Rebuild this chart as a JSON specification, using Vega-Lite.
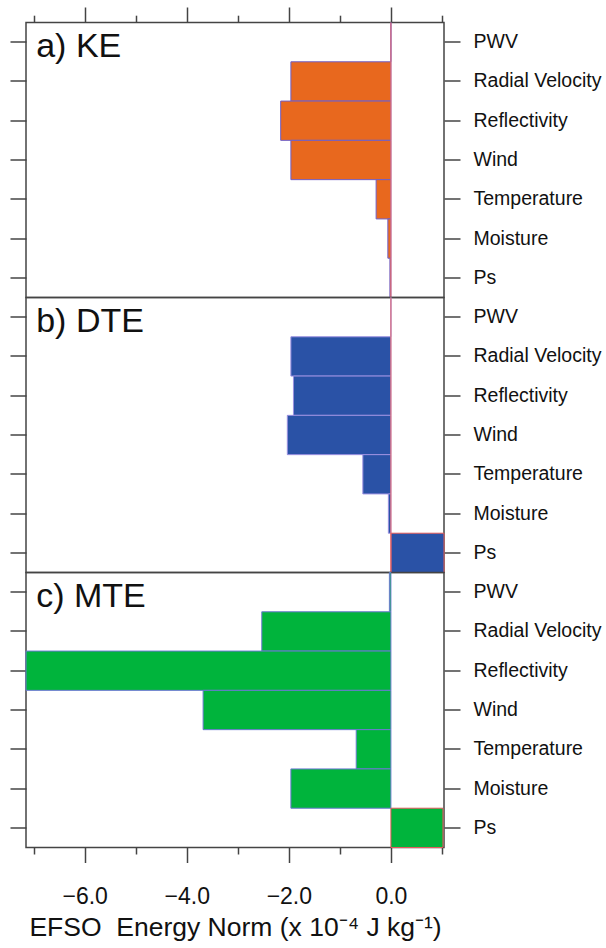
{
  "$schema": "https://vega.github.io/schema/vega-lite/v6.json",
  "background": "white",
  "padding": {"left": 8, "top": 5.5, "right": 0, "bottom": 0},
  "spacing": 0,
  "bounds": "flush",
  "config": {
    "font": "Liberation Sans",
    "concat": {"spacing": 0},
    "view": {"stroke": "#444", "strokeWidth": 1.5},
    "axis": {"grid": false, "domain": false, "tickColor": "#444", "tickWidth": 1.5, "labelColor": "#111", "titleColor": "#111"}
  },
  "datasets": {
    "efso": [
      {"norm": "KE", "var": "PWV", "value": 0},
      {"norm": "KE", "var": "Radial Velocity", "value": -1.96},
      {"norm": "KE", "var": "Reflectivity", "value": -2.16},
      {"norm": "KE", "var": "Wind", "value": -1.96},
      {"norm": "KE", "var": "Temperature", "value": -0.29},
      {"norm": "KE", "var": "Moisture", "value": -0.06},
      {"norm": "KE", "var": "Ps", "value": -0.02},
      {"norm": "DTE", "var": "PWV", "value": 0},
      {"norm": "DTE", "var": "Radial Velocity", "value": -1.96},
      {"norm": "DTE", "var": "Reflectivity", "value": -1.91},
      {"norm": "DTE", "var": "Wind", "value": -2.03},
      {"norm": "DTE", "var": "Temperature", "value": -0.55},
      {"norm": "DTE", "var": "Moisture", "value": -0.05},
      {"norm": "DTE", "var": "Ps", "value": 1.04},
      {"norm": "MTE", "var": "PWV", "value": -0.03},
      {"norm": "MTE", "var": "Radial Velocity", "value": -2.53},
      {"norm": "MTE", "var": "Reflectivity", "value": -7.15},
      {"norm": "MTE", "var": "Wind", "value": -3.68},
      {"norm": "MTE", "var": "Temperature", "value": -0.68},
      {"norm": "MTE", "var": "Moisture", "value": -1.96},
      {"norm": "MTE", "var": "Ps", "value": 1.02}
    ]
  },
  "vconcat": [
    {
      "width": 418, "height": 275,
      "data": {"name": "efso"},
      "transform": [{"filter": "datum.norm === 'KE'"}],
      "layer": [
        {
          "mark": {"type": "bar", "fill": "#e8681e", "strokeWidth": 1},
          "encoding": {
            "x": {"field": "value", "type": "quantitative",
              "scale": {"domain": [-7.15, 1.04], "nice": false, "zero": false},
              "axis": {"orient": "top", "title": null, "labels": false,
                "values": [-7, -6.5, -6, -5.5, -5, -4.5, -4, -3.5, -3, -2.5, -2, -1.5, -1, -0.5, 0, 0.5, 1],
                "tickSize": {"condition": {"test": "datum.value % 2 === 0", "value": 15.5}, "value": 7.3}}},
            "x2": {"datum": 0},
            "y": {"field": "var", "type": "nominal",
              "sort": ["PWV", "Radial Velocity", "Reflectivity", "Wind", "Temperature", "Moisture", "Ps"],
              "scale": {"paddingInner": 0, "paddingOuter": 0},
              "axis": {"orient": "left", "title": null, "labels": false, "tickSize": 16}},
            "stroke": {"condition": {"test": "datum.value > 0", "value": "#e05a5a"}, "value": "#7060c8"}
          }
        },
        {
          "mark": {"type": "bar", "opacity": 0},
          "encoding": {
            "x": {"field": "value", "type": "quantitative"},
            "x2": {"datum": 0},
            "y": {"field": "var", "type": "nominal",
              "sort": ["PWV", "Radial Velocity", "Reflectivity", "Wind", "Temperature", "Moisture", "Ps"],
              "axis": {"orient": "right", "title": null, "tickSize": 16, "labelPadding": 13, "labelFontSize": 19.5}}
          }
        },
        {
          "data": {"values": [{"zero": 0}]},
          "mark": {"type": "rule", "color": "#f06a6a", "strokeWidth": 1},
          "encoding": {"x": {"field": "zero", "type": "quantitative"}}
        },
        {
          "data": {"values": [{"label": "a) KE"}]},
          "mark": {"type": "text", "align": "left", "baseline": "alphabetic", "dy": 15, "fontSize": 34, "color": "#111"},
          "encoding": {
            "x": {"datum": -6.95, "type": "quantitative"},
            "y": {"datum": "PWV", "type": "nominal", "axis": null},
            "text": {"field": "label"}
          }
        }
      ],
      "resolve": {"axis": {"y": "independent"}}
    },
    {
      "width": 418, "height": 275,
      "data": {"name": "efso"},
      "transform": [{"filter": "datum.norm === 'DTE'"}],
      "layer": [
        {
          "mark": {"type": "bar", "fill": "#2a52a6", "strokeWidth": 1},
          "encoding": {
            "x": {"field": "value", "type": "quantitative",
              "scale": {"domain": [-7.15, 1.04], "nice": false, "zero": false},
              "axis": null},
            "x2": {"datum": 0},
            "y": {"field": "var", "type": "nominal",
              "sort": ["PWV", "Radial Velocity", "Reflectivity", "Wind", "Temperature", "Moisture", "Ps"],
              "scale": {"paddingInner": 0, "paddingOuter": 0},
              "axis": {"orient": "left", "title": null, "labels": false, "tickSize": 16}},
            "stroke": {"condition": {"test": "datum.value > 0", "value": "#e05a5a"}, "value": "#9a90e0"}
          }
        },
        {
          "mark": {"type": "bar", "opacity": 0},
          "encoding": {
            "x": {"field": "value", "type": "quantitative", "axis": null},
            "x2": {"datum": 0},
            "y": {"field": "var", "type": "nominal",
              "sort": ["PWV", "Radial Velocity", "Reflectivity", "Wind", "Temperature", "Moisture", "Ps"],
              "axis": {"orient": "right", "title": null, "tickSize": 16, "labelPadding": 13, "labelFontSize": 19.5}}
          }
        },
        {
          "data": {"values": [{"zero": 0}]},
          "mark": {"type": "rule", "color": "#f06a6a", "strokeWidth": 1},
          "encoding": {"x": {"field": "zero", "type": "quantitative", "axis": null}}
        },
        {
          "data": {"values": [{"label": "b) DTE"}]},
          "mark": {"type": "text", "align": "left", "baseline": "alphabetic", "dy": 15, "fontSize": 34, "color": "#111"},
          "encoding": {
            "x": {"datum": -6.95, "type": "quantitative", "axis": null},
            "y": {"datum": "PWV", "type": "nominal", "axis": null},
            "text": {"field": "label"}
          }
        }
      ],
      "resolve": {"axis": {"y": "independent"}}
    },
    {
      "width": 418, "height": 275,
      "data": {"name": "efso"},
      "transform": [{"filter": "datum.norm === 'MTE'"}],
      "layer": [
        {
          "mark": {"type": "bar", "fill": "#00b43c", "strokeWidth": 1},
          "encoding": {
            "x": {"field": "value", "type": "quantitative",
              "scale": {"domain": [-7.15, 1.04], "nice": false, "zero": false},
              "axis": {"orient": "bottom",
                "title": "EFSO\u00a0 Energy Norm (x 10\u207b\u2074 J kg\u207b\u00b9)",
                "titleFontSize": 26.5, "titleFontWeight": "normal", "titlePadding": 6,
                "values": [-7, -6.5, -6, -5.5, -5, -4.5, -4, -3.5, -3, -2.5, -2, -1.5, -1, -0.5, 0, 0.5, 1],
                "labelExpr": "datum.value % 2 === 0 ? format(datum.value, '.1f') : ''",
                "labelFontSize": 23, "labelPadding": 23, "labelOverlap": false, "labelFlush": false,
                "tickSize": {"condition": {"test": "datum.value % 2 === 0", "value": 15}, "value": 6.5}}},
            "x2": {"datum": 0},
            "y": {"field": "var", "type": "nominal",
              "sort": ["PWV", "Radial Velocity", "Reflectivity", "Wind", "Temperature", "Moisture", "Ps"],
              "scale": {"paddingInner": 0, "paddingOuter": 0},
              "axis": {"orient": "left", "title": null, "labels": false, "tickSize": 16}},
            "stroke": {"condition": {"test": "datum.value > 0", "value": "#e05a5a"}, "value": "#6a7ad0"}
          }
        },
        {
          "mark": {"type": "bar", "opacity": 0},
          "encoding": {
            "x": {"field": "value", "type": "quantitative"},
            "x2": {"datum": 0},
            "y": {"field": "var", "type": "nominal",
              "sort": ["PWV", "Radial Velocity", "Reflectivity", "Wind", "Temperature", "Moisture", "Ps"],
              "axis": {"orient": "right", "title": null, "tickSize": 16, "labelPadding": 13, "labelFontSize": 19.5}}
          }
        },
        {
          "data": {"values": [{"label": "c) MTE"}]},
          "mark": {"type": "text", "align": "left", "baseline": "alphabetic", "dy": 15, "fontSize": 34, "color": "#111"},
          "encoding": {
            "x": {"datum": -6.95, "type": "quantitative"},
            "y": {"datum": "PWV", "type": "nominal", "axis": null},
            "text": {"field": "label"}
          }
        }
      ],
      "resolve": {"axis": {"y": "independent"}}
    }
  ]
}
